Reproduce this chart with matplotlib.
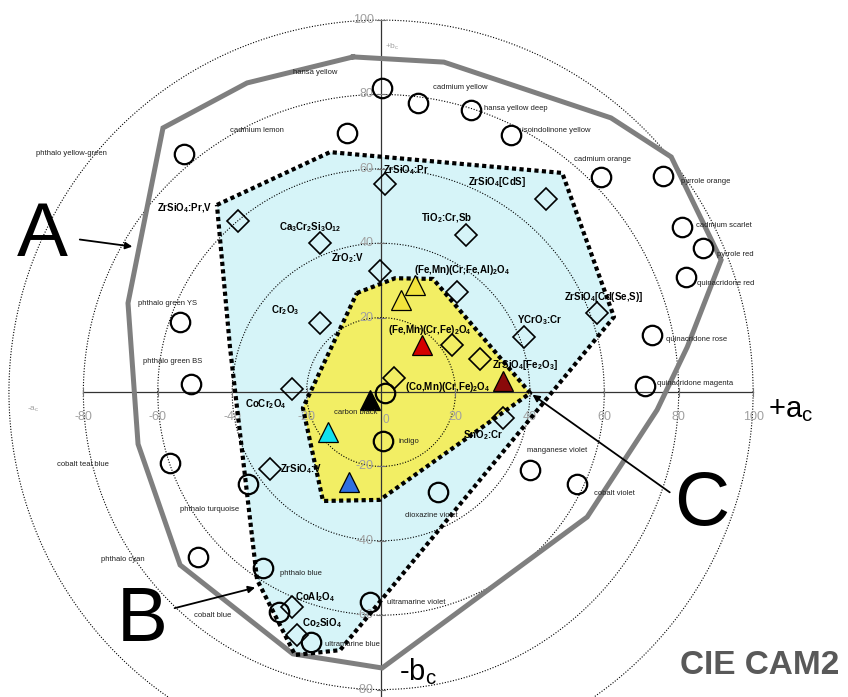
import numpy as np
import matplotlib
matplotlib.use("Agg")
import matplotlib.pyplot as plt
from matplotlib.patches import Polygon

plt.rcParams['font.family'] = ['Liberation Sans', 'DejaVu Sans']
plt.rcParams['mathtext.fontset'] = 'custom'
plt.rcParams['mathtext.rm'] = 'Liberation Sans'
plt.rcParams['mathtext.it'] = 'Liberation Sans:italic'
plt.rcParams['mathtext.bf'] = 'Liberation Sans:bold'
plt.rcParams['mathtext.default'] = 'bf'

# ---- data (a_c, b_c) ----
rings = [20, 40, 60, 80, 100]

# A : gamut of artist pigments (grey outline)
gamut_a = [-7.5, 16.9, 61.8, 78.0, 91.4, 82.3, 74.2, 55.4, 0.3, -23.7, -54.0, -65.3, -68.0, -58.6, -36.0]
gamut_b = [90.1, 88.7, 73.7, 63.2, 35.5, 12.1, -4.8, -33.6, -74.2, -70.4, -46.5, -14.0, 23.9, 71.0, 83.1]

# B : ceramic pigments (cyan)
ceram_a = [-44.1, -13.7, 48.7, 62.6, -11.0, -23.1, -33.3, -40.6]
ceram_b = [50.3, 64.5, 58.9, 20.2, -69.4, -70.7, -50.5, 12.1]

# C : spinels (yellow)
spinel_a = [-6.5, 3.8, 14.0, 40.1, -0.3, -15.6, -21.0]
spinel_b = [26.6, 30.6, 30.4, -0.3, -29.0, -29.3, -4.3]

# artist pigments (circles)
circ_names = ["hansa yellow", "cadmium yellow", "hansa yellow deep", "isoindolinone yellow",
              "cadmium lemon", "phthalo yellow-green", "cadmium orange", "pyrrole orange",
              "cadmium scarlet", "pyrrole red", "quinacridone red", "quinacridone rose",
              "quinacridone magenta", "manganese violet", "cobalt violet", "dioxazine violet",
              "ultramarine violet", "ultramarine blue", "cobalt blue", "phthalo blue",
              "phthalo cyan", "phthalo turquoise", "cobalt teal blue", "phthalo green BS",
              "phthalo green YS", "carbon black", "indigo"]
circ_a = [0.3, 9.9, 24.2, 34.9, -9.1, -53.0, 59.1, 75.8, 80.9, 86.6, 82.0, 72.8, 71.0, 40.1,
          52.7, 15.3, -3.0, -18.8, -27.4, -31.7, -49.2, -35.8, -56.7, -51.1, -54.0, 1.1, 0.5]
circ_b = [81.7, 77.7, 75.8, 69.1, 69.6, 64.0, 57.8, 58.1, 44.4, 38.7, 30.9, 15.3, 1.6, -21.0,
          -24.7, -26.9, -56.5, -67.2, -59.1, -47.3, -44.4, -24.7, -19.1, 2.2, 18.8, -0.3, -13.2]
circ_lab_a = [-17.7, 21.2, 27.7, 37.9, -33.3, -83.1, 59.4, 80.6, 84.7, 90.3, 84.9, 76.6, 74.2,
              39.2, 57.3, 6.5, 1.6, -15.1, -45.2, -27.2, -69.4, -46.0, -80.1, -55.9, -57.5, -6.8, 4.6]
circ_lab_b = [86.0, 82.0, 76.1, 70.4, 70.4, 64.2, 62.4, 56.5, 44.9, 37.1, 29.3, 14.0, 2.2,
              -15.6, -27.4, -33.1, -56.7, -68.0, -60.2, -48.7, -44.9, -31.5, -19.4, 8.1, 23.7, -5.6, -13.4]
circ_lab_ha = ['center', 'center', 'left', 'left', 'center', 'center', 'center', 'left', 'left',
               'left', 'left', 'left', 'left', 'left', 'left', 'left', 'left', 'left', 'center',
               'left', 'center', 'center', 'center', 'center', 'center', 'center', 'left']

# ceramic pigments (diamonds)
diam_names = [r"ZrSiO$_4$:Pr", r"ZrSiO$_4$:Pr,V", r"Ca$_3$Cr$_2$Si$_3$O$_{12}$", r"ZrO$_2$:V",
              r"Cr$_2$O$_3$", r"ZrSiO$_4$[CdS]", r"TiO$_2$:Cr,Sb", r"(Fe,Mn)(Cr,Fe,Al)$_2$O$_4$",
              r"ZrSiO$_4$[Cd(Se,S)]", r"YCrO$_3$:Cr", "", r"ZrSiO$_4$[Fe$_2$O$_3$]",
              r"(Co,Mn)(Cr,Fe)$_2$O$_4$", r"CoCr$_2$O$_4$", r"SnO$_2$:Cr", r"ZrSiO$_4$:V",
              r"CoAl$_2$O$_4$", r"Co$_2$SiO$_4$"]
diam_a = [1.1, -38.4, -16.4, -0.3, -16.4, 44.4, 22.8, 20.4, 58.1, 38.4, 19.1, 26.6, 3.5, -23.9,
          32.8, -29.8, -23.9, -22.6]
diam_b = [55.9, 46.0, 40.1, 32.5, 18.5, 51.9, 42.2, 26.9, 21.2, 14.8, 12.6, 8.9, 3.8, 0.8,
          -7.0, -20.7, -57.8, -65.3]
diam_lab_a = [0.5, -52.7, -19.1, -9.1, -25.8, 31.2, 17.7, 21.8, 59.9, 42.7, 0, 29.8, 6.5, -36.6,
              22.0, -27.2, -23.1, -21.2]
diam_lab_b = [59.7, 49.5, 44.4, 36.0, 22.0, 56.5, 46.8, 32.8, 25.5, 19.4, 0, 7.3, 1.3, -3.2,
              -11.6, -20.7, -55.1, -62.1]
diam_lab_ha = ['left', 'center', 'center', 'center', 'center', 'center', 'center', 'center',
               'center', 'center', 'center', 'left', 'left', 'left', 'left', 'left', 'left', 'left']

# spinel pigments (triangles)
tri_a = [9.1, 5.4, 11.0, 32.8, -3.0, -14.2, -8.6]
tri_b = [28.8, 24.7, 12.6, 3.0, -2.2, -10.8, -24.2]
tri_colors = ['#f2e43c', '#f2e43c', '#d40000', '#8a0a0a', '#000000', '#10e0ee', '#2f6fe0']

fig = plt.figure(figsize=(8.48, 6.97), dpi=100)
ax = fig.add_axes([0, 0, 1, 1])
ax.set_xlim(-102.4, 125.5)
ax.set_ylim(-82.0, 105.4)
ax.axis('off')

# fills
ax.add_patch(Polygon(np.column_stack([ceram_a, ceram_b]), closed=True,
                     facecolor='#d6f4f8', edgecolor='none', zorder=1))
ax.add_patch(Polygon(np.column_stack([spinel_a, spinel_b]), closed=True,
                     facecolor='#f2ee64', edgecolor='none', zorder=1.5))

# rings and axes
th = np.linspace(0, 2 * np.pi, 500)
for r in rings:
    ax.plot(r * np.cos(th), r * np.sin(th), color='k', lw=0.8, ls=(0, (1, 1.5)), zorder=2)
ax.plot([-80, 100], [0, 0], color='#333333', lw=0.9, zorder=2)
ax.plot([0, 0], [-82, 100], color='#333333', lw=0.9, zorder=2)
for r in rings:
    for v in (r, -r):
        if v < -80:
            continue
        ax.plot([v, v], [-1.2, 1.2], color='#777777', lw=0.8, zorder=2)
        ax.plot([-1.2, 1.2], [v, v], color='#777777', lw=0.8, zorder=2)
        ax.text(v, -6.8, "%d" % v, ha='center', va='center', fontsize=9, color='#a0a0a0', zorder=2)
        ax.text(-2.0, v, "%d" % v, ha='right', va='center', fontsize=9, color='#a0a0a0', zorder=2)
ax.text(1.2, -7.4, "0", ha='center', va='center', fontsize=8.5, color='#a0a0a0', zorder=2)
ax.text(3.0, 92.7, r"+b$_\mathrm{c}$", fontsize=6, color='#a0a0a0', ha='center', va='center')
ax.text(-93.5, -4.6, r"-a$_\mathrm{c}$", fontsize=6, color='#a0a0a0', ha='center', va='center')

# outlines
ax.plot(gamut_a + gamut_a[:1], gamut_b + gamut_b[:1], color='#7f7f7f', lw=3.6,
        solid_joinstyle='miter', zorder=3)
ax.plot(ceram_a + ceram_a[:1], ceram_b + ceram_b[:1], color='k', lw=3,
        ls=(0, (1, 0.8)), zorder=4)
ax.plot(spinel_a + spinel_a[:1], spinel_b + spinel_b[:1], color='k', lw=3,
        ls=(0, (1, 0.8)), zorder=4)

# markers
ax.plot(circ_a, circ_b, 'o', ms=14, mfc='none', mec='k', mew=1.6, zorder=6)
ax.plot(diam_a, diam_b, 'D', ms=11, mfc='none', mec='k', mew=1.2, zorder=6)
for x, y, c in zip(tri_a, tri_b, tri_colors):
    ax.plot(x, y, '^', ms=15, mfc=c, mec='k', mew=0.9, zorder=7)

for name, x, y, h in zip(circ_names, circ_lab_a, circ_lab_b, circ_lab_ha):
    ax.text(x, y, name, ha=h, va='center', fontsize=5.5, color='#202020', zorder=8)
for name, x, y, h in zip(diam_names, diam_lab_a, diam_lab_b, diam_lab_ha):
    if name:
        ax.text(x, y, name, ha=h, va='center', fontsize=7, fontweight='bold', zorder=8)
ax.text(13.2, 16.7, r"(Fe,Mn)(Cr,Fe)$_2$O$_4$", ha='center', va='center', fontsize=7,
        fontweight='bold', zorder=8)

# big labels and arrows
ax.text(-91.1, 41.9, "A", fontsize=55, ha='center', va='center')
ax.annotate("", xy=(-66.1, 39.0), xytext=(-81.7, 41.1),
            arrowprops=dict(arrowstyle='-|>', color='k', lw=1.3, mutation_scale=10))
ax.text(-64.2, -61.6, "B", fontsize=55, ha='center', va='center')
ax.annotate("", xy=(-33.1, -52.4), xytext=(-56.2, -58.3),
            arrowprops=dict(arrowstyle='-|>', color='k', lw=1.3, mutation_scale=10))
ax.text(86.3, -30.6, "C", fontsize=55, ha='center', va='center')
ax.annotate("", xy=(40.1, -0.3), xytext=(78.2, -27.4),
            arrowprops=dict(arrowstyle='-|>', color='k', lw=1.3, mutation_scale=10))

ax.text(110.0, -4.8, r"+a$_\mathrm{c}$", fontsize=21, ha='center', va='center')
ax.text(10.0, -75.3, r"-b$_\mathrm{c}$", fontsize=21, ha='center', va='center')
ax.text(101.9, -73.4, "CIE CAM2", fontsize=24, fontweight='bold', color='#595959',
        ha='center', va='center')

fig.savefig("out.png", dpi=100)
